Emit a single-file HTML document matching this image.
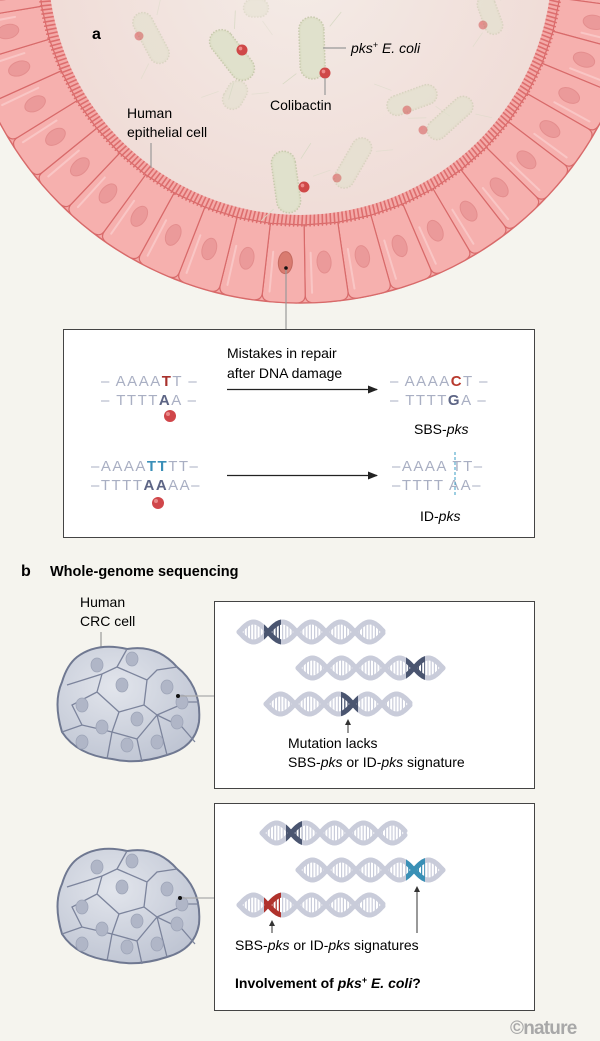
<!DOCTYPE html>
<html><head><meta charset="utf-8">
<style>
html,body{margin:0;padding:0;background:#f5f4ee;}
svg{display:block;}
text{font-family:"Liberation Sans",Arial,sans-serif;}
</style></head>
<body>
<svg id="s" width="600" height="1041" viewBox="0 0 600 1041" xmlns="http://www.w3.org/2000/svg">
<defs>
<radialGradient id="lum" cx="300" cy="-37" r="262" gradientUnits="userSpaceOnUse">
<stop offset="0" stop-color="#f4ece7"/><stop offset="1" stop-color="#f0dcd7"/>
</radialGradient>
<radialGradient id="cellg" cx="0.4" cy="0.35" r="0.7">
<stop offset="0" stop-color="#e2e5ec"/><stop offset="1" stop-color="#bfc5d3"/>
</radialGradient>
<marker id="ar" markerWidth="10" markerHeight="8" refX="9" refY="4" orient="auto" markerUnits="userSpaceOnUse">
<path d="M0,0 L10,4 L0,8 Z" fill="#222"/></marker>
<marker id="ar2" markerWidth="6" markerHeight="6" refX="5" refY="3" orient="auto" markerUnits="userSpaceOnUse">
<path d="M0,0 L6,3 L0,6 Z" fill="#333"/></marker>
</defs>
<rect width="600" height="1041" fill="#f5f4ee"/>
<circle cx="300" cy="-37" r="340" fill="#f4aaa8" stroke="#d86a6a" stroke-width="1.5"/>
<g id="cells"></g>
<g id="villi"></g>
<circle cx="300" cy="-37" r="252" fill="url(#lum)"/>
<g id="bact"></g>

<text x="92" y="39" font-size="16" font-weight="bold">a</text>
<line x1="323" y1="48" x2="346" y2="48" stroke="#999" stroke-width="1.2"/>
<text x="351" y="53" font-size="14" font-style="italic">pks<tspan dy="-5" font-size="9">+</tspan><tspan dy="5"> E. coli</tspan></text>
<line x1="325" y1="78" x2="325" y2="95" stroke="#999" stroke-width="1.2"/>
<text x="270" y="110" font-size="14">Colibactin</text>
<text x="127" y="118" font-size="14">Human</text>
<text x="127" y="137" font-size="14">epithelial cell</text>
<line x1="151" y1="143" x2="151" y2="168" stroke="#999" stroke-width="1.2"/>
<line x1="286" y1="270" x2="286" y2="330" stroke="#999" stroke-width="1.2"/>

<rect x="63.5" y="329.5" width="471" height="208" fill="#fff" stroke="#444" stroke-width="1"/>
<g font-size="15" fill="#a9afc3" letter-spacing="1.5">
<text x="101" y="386">– AAAA<tspan fill="#a8302c" font-weight="bold">T</tspan>T –</text>
<text x="101" y="405">– TTTT<tspan fill="#5d6585" font-weight="bold">A</tspan>A –</text>
<text x="390" y="386">– AAAA<tspan fill="#b83a2e" font-weight="bold">C</tspan>T –</text>
<text x="390" y="405">– TTTT<tspan fill="#5d6585" font-weight="bold">G</tspan>A –</text>
<text x="91" y="471">–AAAA<tspan fill="#3a8fb8" font-weight="bold">TT</tspan>TT–</text>
<text x="91" y="490">–TTTT<tspan fill="#5d6585" font-weight="bold">AA</tspan>AA–</text>
<text x="392" y="471">–AAAA TT–</text>
<text x="392" y="490">–TTTT AA–</text>
</g>
<line x1="455" y1="452" x2="455" y2="497" stroke="#3a9cc4" stroke-width="1" stroke-dasharray="3,2"/>
<circle cx="170" cy="416" r="6" fill="#d0464a"/><circle cx="168" cy="414" r="2" fill="#e98a8a"/>
<circle cx="158" cy="503" r="6" fill="#d0464a"/><circle cx="156" cy="501" r="2" fill="#e98a8a"/>
<text x="227" y="358" font-size="14">Mistakes in repair</text>
<text x="227" y="378" font-size="14">after DNA damage</text>
<line x1="227" y1="389.5" x2="377" y2="389.5" stroke="#222" stroke-width="1.2" marker-end="url(#ar)"/>
<line x1="227" y1="475.5" x2="377" y2="475.5" stroke="#222" stroke-width="1.2" marker-end="url(#ar)"/>
<text x="414" y="434" font-size="14">SBS-<tspan font-style="italic">pks</tspan></text>
<text x="420" y="521" font-size="14">ID-<tspan font-style="italic">pks</tspan></text>

<text x="21" y="576" font-size="16" font-weight="bold">b</text>
<text x="50" y="576" font-size="14.5" font-weight="bold">Whole-genome sequencing</text>
<text x="80" y="607" font-size="14">Human</text>
<text x="80" y="626" font-size="14">CRC cell</text>
<line x1="101" y1="632" x2="101" y2="655" stroke="#999" stroke-width="1.2"/>
<g id="clu1"></g>
<g id="clu2"></g>
<line x1="178" y1="696" x2="214" y2="696" stroke="#aaa" stroke-width="1.2"/>
<line x1="180" y1="898" x2="214" y2="898" stroke="#aaa" stroke-width="1.2"/>
<circle cx="178" cy="696" r="2" fill="#111"/>
<circle cx="180" cy="898" r="2" fill="#111"/>

<rect x="214.5" y="601.5" width="320" height="187" fill="#fff" stroke="#444"/>
<rect x="214.5" y="803.5" width="320" height="207" fill="#fff" stroke="#444"/>
<g id="dna"></g>
<line x1="348" y1="733" x2="348" y2="720" stroke="#333" stroke-width="1" marker-end="url(#ar2)"/>
<text x="288" y="748" font-size="14">Mutation lacks</text>
<text x="288" y="767" font-size="14">SBS-<tspan font-style="italic">pks</tspan> or ID-<tspan font-style="italic">pks</tspan> signature</text>
<line x1="272" y1="933" x2="272" y2="921" stroke="#333" stroke-width="1" marker-end="url(#ar2)"/>
<line x1="417" y1="933" x2="417" y2="887" stroke="#333" stroke-width="1" marker-end="url(#ar2)"/>
<text x="235" y="950" font-size="14">SBS-<tspan font-style="italic">pks</tspan> or ID-<tspan font-style="italic">pks</tspan> signatures</text>
<text x="235" y="988" font-size="14" font-weight="bold">Involvement of <tspan font-style="italic">pks</tspan><tspan dy="-5" font-size="9">+</tspan><tspan dy="5" font-style="italic"> E. coli</tspan>?</text>
<text x="510" y="1034" font-size="19" font-weight="bold" fill="#a8a8a8" letter-spacing="-0.8">©nature</text>
</svg>
<script>
const NS="http://www.w3.org/2000/svg";
function el(p,t,a){const e=document.createElementNS(NS,t);for(const k in a)e.setAttribute(k,a[k]);p.appendChild(e);return e;}
const cx=300,cy=-37,R=340,r=262;
const cells=document.getElementById('cells');
function P(rad,deg){const a=deg*Math.PI/180;return [cx+rad*Math.cos(a),cy+rad*Math.sin(a)];}
const step=7.4;
for(let k=-14;k<=14;k++){
  const c=92.8+k*step, a0=c-step/2, a1=c+step/2;
  const p1=P(r,a0),p2=P(R-8,a0),p3=P(R,a0+1.5),p4=P(R,a1-1.5),p5=P(R-8,a1),p6=P(r,a1);
  const d=`M${p1} L${p2} Q${P(R,a0)} ${p3} A${R} ${R} 0 0 1 ${p4} Q${P(R,a1)} ${p5} L${p6} Z`;
  el(cells,'path',{d:d,fill:'#f6b0ae',stroke:'#d86a6a','stroke-width':1.2});
  const n=P(300,c);
  const special=(k===0);
  el(cells,'ellipse',{cx:n[0],cy:n[1],rx:11,ry:7,transform:`rotate(${c} ${n[0]} ${n[1]})`,fill:special?'#d97b70':'#eb9a9a',stroke:special?'#c46a60':'#e48e8e','stroke-width':1});
  el(cells,'line',{x1:P(290,c+2.5)[0],y1:P(290,c+2.5)[1],x2:P(330,c+2.5)[0],y2:P(330,c+2.5)[1],stroke:'#fbd0cf','stroke-width':2,'stroke-linecap':'round',opacity:0.7});
}
el(cells,'circle',{cx:286,cy:268,r:1.8,fill:'#111'});
const v=document.getElementById('villi');
let dv='';
for(let a=-15;a<=195;a+=0.9){
  const q1=P(250,a),q2=P(263,a+0.2);
  dv+=`M${q1}L${q2}`;
}
el(v,'path',{d:dv,stroke:'#dd6e6e','stroke-width':1.6,fill:'none','stroke-linecap':'round'});
const b=document.getElementById('bact');
function bac(x,y,L,W,ang,op){
  const g=el(b,'g',{transform:`translate(${x} ${y}) rotate(${ang})`,opacity:op});
  el(g,'path',{d:`M${-L/2+10},${-W/2-6} l-14,-12 M${L/2-6},${W/2+4} l10,14`,stroke:'#d9dac6','stroke-width':0.8,fill:'none'});
  el(g,'rect',{x:-L/2,y:-W/2,width:L,height:W,rx:W/2,fill:'#dedfc8',stroke:'#c8caae','stroke-width':1.5,'stroke-dasharray':'1.5,1.5'});
  el(g,'rect',{x:-L/2+2,y:-W/2+2,width:L-4,height:W-4,rx:W/2-2,fill:'#e0e1cc'});
}
bac(151,38,55,20,62,0.55);
bac(235,95,30,20,-60,0.5);
bac(256,8,25,18,0,0.4);
bac(232,55,58,24,52,1);
bac(312,48,62,25,88,1);
bac(490,15,40,18,70,0.55);
bac(412,100,52,20,-20,0.6);
bac(450,118,55,20,-42,0.6);
bac(286,182,62,24,82,1);
bac(353,163,55,20,-60,0.55);
function dot(x,y,rr,op){el(b,'circle',{cx:x,cy:y,r:rr,fill:'#cf4848',opacity:op});el(b,'circle',{cx:x-1.5,cy:y-1.5,r:rr/3,fill:'#e88',opacity:op});}
dot(242,50,5.5,1);dot(325,73,5.5,1);dot(304,187,5.5,1);
dot(139,36,4.5,0.5);dot(483,25,4.5,0.5);dot(407,110,4.5,0.5);dot(423,130,4.5,0.5);dot(337,178,4.5,0.5);
function cluster(id,ox,oy){
  const g=document.getElementById(id);
  const G=el(g,'g',{transform:`translate(${ox} ${oy})`});
  el(G,'path',{d:'M20,10 Q40,-5 70,2 Q100,-3 120,20 Q145,40 142,75 Q138,100 110,108 Q80,118 55,112 Q20,108 5,85 Q-4,55 5,35 Q10,18 20,10 Z',fill:'url(#cellg)',stroke:'#6f7891','stroke-width':2});
  el(G,'path',{d:'M70,2 L60,20 L45,27 L10,38 M60,20 L90,33 L100,23 L120,20 M90,33 L87,58 L100,68 L130,55 L142,55 M87,58 L62,65 L40,45 L45,27 M62,65 L55,85 L50,112 M55,85 L25,78 L5,85 M25,78 L15,58 L40,45 M100,68 L110,108 M55,85 L80,92 L100,68 M80,92 L85,115 M100,68 L125,80 L138,95',stroke:'#7c849c','stroke-width':1.3,fill:'none'});
  [[40,18],[75,12],[25,58],[65,38],[110,40],[80,72],[45,80],[120,75],[70,98],[100,95],[25,95],[125,55]].forEach(p=>{
    el(G,'ellipse',{cx:p[0],cy:p[1],rx:6,ry:7,fill:'#b0b6c7',stroke:'#9ea5b8','stroke-width':0.8});
  });
}
cluster('clu1',57,647);
cluster('clu2',57,849);
const D=document.getElementById('dna');
let cid=0;
function helix(x0,x1,yc,hx0,hx1,hc){
  const lam=58,A=10;
  function strand(ph){let d='';for(let x=x0;x<=x1;x+=1){const y=yc+A*Math.sin(2*Math.PI*(x-x0)/lam+ph);d+=(x===x0?'M':'L')+x+','+y.toFixed(1);}return d;}
  let rungs='';
  for(let x=x0+2;x<=x1;x+=3.2){const s=Math.sin(2*Math.PI*(x-x0)/lam);if(Math.abs(s)<0.45)continue;const y1=yc+A*s,y2=yc-A*s;rungs+=`M${x},${Math.min(y1,y2)+2.5}L${x},${Math.max(y1,y2)-2.5}`;}
  const mk=(col,clip)=>{const g=el(D,'g',clip?{'clip-path':`url(#${clip})`}:{});
    el(g,'path',{d:rungs,stroke:col,'stroke-width':1.2,fill:'none'});
    el(g,'path',{d:strand(0),stroke:col,'stroke-width':5,fill:'none','stroke-linecap':'round'});
    el(g,'path',{d:strand(Math.PI),stroke:col,'stroke-width':5,fill:'none','stroke-linecap':'round'});};
  mk('#c9ccda',null);
  const id='c'+(cid++);
  const cp=el(D,'clipPath',{id:id});el(cp,'rect',{x:hx0,y:yc-15,width:hx1-hx0,height:30});
  mk(hc,id);
}
helix(239,383,632,264,281,'#4a5570');
helix(298,443,668,406,425,'#4a5570');
helix(266,410,704,341,358,'#4a5570');
helix(262,405,833,286,302,'#4a5570');
helix(298,443,870,406,425,'#3a90b6');
helix(239,383,905,264,281,'#b0322c');
</script>
</body></html>
